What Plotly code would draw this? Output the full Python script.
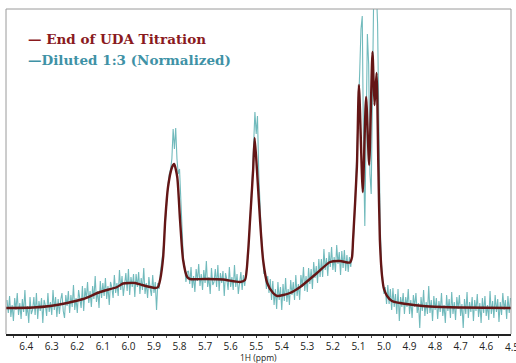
import plotly.graph_objects as go

# ---------------- data ----------------
# Smooth spectrum "End of UDA Titration" (ppm, intensity, arbitrary units)
red_ppm = [6.479, 6.373, 6.306, 6.240, 6.177, 6.111, 6.044, 6.021, 5.974, 5.946,
           5.915, 5.896, 5.884, 5.876, 5.864, 5.856, 5.845, 5.829, 5.821, 5.809,
           5.798, 5.786, 5.770, 5.759, 5.700, 5.630, 5.563, 5.544, 5.532, 5.524,
           5.512, 5.506, 5.497, 5.485, 5.473, 5.457, 5.434, 5.418, 5.368, 5.328,
           5.262, 5.211, 5.172, 5.133, 5.125, 5.121, 5.106, 5.098, 5.083, 5.070,
           5.058, 5.045, 5.037, 5.029, 5.022, 5.016, 5.008, 5.000, 4.988, 4.969,
           4.937, 4.898, 4.820, 4.703, 4.503]
red_val = [26, 26.5, 28, 31, 35, 42, 47, 50.5, 51, 49,
           47, 46, 47, 54, 77, 114, 147, 167, 170, 157,
           114, 74, 57, 55, 55, 54.5, 52, 54, 81, 114,
           164, 196, 164, 114, 74, 51, 41, 38, 41, 47,
           61, 72, 73, 71.5, 77, 94, 167, 249, 142, 237,
           169, 282, 229, 261, 167, 94, 59, 45, 38, 33,
           31, 29.5, 27.5, 26.5, 26]

# Noisy spectrum "Diluted 1:3 (Normalized)": segments of points 0.005 ppm apart
teal_step = 0.005
teal_a_start = 6.475
teal_a = [34, 21, 38, 17, 29, 13, 36, 24, 41, 19, 31, 15, 35, 22, 44, 18, 28, 11, 37, 20]
teal_b_start = 6.375
teal_b = [24, 37, 19, 41, 15, 33, 23, 36, 11, 34, 29, 18, 41, 22, 32, 19, 44, 24, 37, 17]
teal_c_start = 6.275
teal_c = [35, 20, 34, 41, 23, 16, 39, 28, 43, 21, 39, 27, 49, 24, 36, 21, 44, 33, 26, 48]
teal_d_start = 6.175
teal_d = [23, 46, 35, 52, 31, 43, 27, 48, 35, 58, 32, 43, 26, 53, 36, 51, 38, 56, 35, 48]
teal_e_start = 6.075
teal_e = [29, 52, 47, 36, 59, 41, 51, 38, 64, 44, 58, 38, 48, 61, 43, 65, 39, 57, 47, 60]
teal_f_start = 5.975
teal_f = [37, 60, 47, 62, 40, 56, 44, 66, 40, 51, 36, 57, 46, 38, 59, 41, 52, 24, 51]
teal_p1_start = 5.880
teal_p1 = [45, 62, 70, 82, 95, 115, 135, 150, 160, 165, 175, 205, 185, 206, 175, 160,
           165, 130, 100, 75, 68, 52, 62]
teal_g_start = 5.765
teal_g = [63, 50, 67, 46, 58, 42, 65, 53, 70, 48, 60, 44, 64, 51, 73, 47, 57, 40, 66, 49,
          52, 65, 47, 69, 43, 61, 51, 63, 38, 61, 55, 44, 67, 47, 57, 44, 69, 47, 60, 40,
          49, 62, 44, 59]
teal_p2_start = 5.545
teal_p2 = [48, 62, 72, 85, 110, 130, 160, 190, 222, 200, 218, 160, 125, 100, 82, 60, 62, 45]
teal_h_start = 5.455
teal_h = [58, 41, 55, 34, 53, 29, 45, 25, 52, 34, 47, 24, 50, 33, 56, 32, 45, 29, 54, 39,
          52, 34, 59, 38, 50, 34, 59, 47, 67, 43, 58, 42, 66, 50, 65, 45, 72, 56, 68, 51,
          75, 57, 75, 57, 85, 64, 76, 58, 82, 67, 87, 64, 77, 62, 89, 70, 82, 59, 83, 66,
          84, 63, 79, 62, 77, 67, 82]
teal_m_start = 5.120
teal_m = [92, 118, 150, 185, 225, 262, 305, 318, 180, 108, 200, 300, 270, 160, 140, 260,
          345, 340, 345, 310, 200, 110, 70, 50, 40]
teal_i_start = 4.995
teal_i = [47, 30, 49, 30, 45, 24, 46, 27, 40, 20, 45, 13, 37, 27, 41, 20, 37, 27, 45, 20,
          34, 16, 39, 27, 41, 21, 31, 6, 37, 23, 44, 18, 32, 20, 48, 21, 34, 13, 38, 24,
          36, 15, 33, 22, 41, 18, 29, 11, 39, 23, 35, 16, 42, 20, 32, 14, 37, 25, 39, 18,
          30, 6, 35, 20, 42, 16, 32, 22, 37, 13, 34, 23, 40, 17, 31, 11, 36, 21, 38, 18,
          29, 14, 43, 20, 33, 16, 39, 22, 35, 12, 32, 19, 41, 24, 34, 15, 38, 21, 36]

teal_segments = [
    (teal_a_start, teal_a), (teal_b_start, teal_b), (teal_c_start, teal_c),
    (teal_d_start, teal_d), (teal_e_start, teal_e), (teal_f_start, teal_f),
    (teal_p1_start, teal_p1), (teal_g_start, teal_g), (teal_p2_start, teal_p2),
    (teal_h_start, teal_h), (teal_m_start, teal_m), (teal_i_start, teal_i),
]

x_range = [6.479, 4.503]
tick_vals = [6.4, 6.3, 6.2, 6.1, 6.0, 5.9, 5.8, 5.7, 5.6, 5.5, 5.4, 5.3, 5.2, 5.1,
             5.0, 4.9, 4.8, 4.7, 4.6]
tick_text = ["6.4", "6.3", "6.2", "6.1", "6.0", "5.9", "5.8", "5.7", "5.6", "5.5",
             "5.4", "5.3", "5.2", "5.1", "5.0", "4.9", "4.8", "4.7", "4.6"]
edge_tick_val = 4.5
edge_tick_text = "4.5"   # label at the right edge, cut off by the page border

label_red = "— End of UDA Titration"
label_teal = "—Diluted 1:3 (Normalized)"
x_title = "1H (ppm)"

# ---------------- build ----------------
teal_x, teal_y = [], []
for start, vals in teal_segments:
    for i, v in enumerate(vals):
        teal_x.append(round(start - teal_step * i, 4))
        teal_y.append(v)

# paper position of the edge label (just beyond the axis end)
edge_paper_x = (x_range[0] - edge_tick_val) / (x_range[0] - x_range[1])

fig = go.Figure()
fig.add_trace(go.Scatter(x=teal_x, y=teal_y, mode="lines",
                         line=dict(color="rgba(88,174,176,0.85)", width=1.1),
                         hoverinfo="skip", showlegend=False))
fig.add_trace(go.Scatter(x=red_ppm, y=red_val, mode="lines",
                         line=dict(color="#641616", width=2.4, shape="spline", smoothing=0.6),
                         hoverinfo="skip", showlegend=False))

fig.update_layout(
    width=516, height=363,
    margin=dict(l=6, r=5, t=9, b=29),
    paper_bgcolor="white", plot_bgcolor="white",
    xaxis=dict(range=x_range, tickmode="array", tickvals=tick_vals, ticktext=tick_text,
               ticks="outside", ticklen=2, tickwidth=1, tickcolor="#333",
               showline=True, linecolor="#222", linewidth=1.5, showgrid=False, zeroline=False,
               tickfont=dict(family="Open Sans", size=10, color="#222"),
               minor=dict(dtick=0.05, tick0=4.5, ticks="outside", ticklen=2, tickcolor="#555",
                          showgrid=False)),
    yaxis=dict(range=[0, 325], visible=False, showgrid=False, zeroline=False),
    shapes=[
        dict(type="line", xref="paper", yref="paper", x0=0, x1=1, y0=1, y1=1,
             line=dict(color="#9a9a9a", width=1)),
        dict(type="line", xref="paper", yref="paper", x0=0, x1=0, y0=0, y1=1,
             line=dict(color="#9a9a9a", width=1)),
        dict(type="line", xref="paper", yref="paper", x0=1, x1=1, y0=0, y1=1,
             line=dict(color="#9a9a9a", width=1)),
    ],
    annotations=[
        dict(text="<b>" + label_red + "</b>", xref="paper", yref="paper",
             x=(26 - 6) / 505, y=(334 - 39) / 325, xanchor="left", yanchor="middle",
             showarrow=False, font=dict(family="DejaVu Serif", size=13.5, color="#8a1a1e")),
        dict(text="<b>" + label_teal + "</b>", xref="paper", yref="paper",
             x=(26 - 6) / 505, y=(334 - 60) / 325, xanchor="left", yanchor="middle",
             showarrow=False, font=dict(family="DejaVu Serif", size=13.5, color="#3f92a6")),
        dict(text=x_title, xref="paper", yref="paper", x=0.5, y=(334 - 357.5) / 325,
             xanchor="center", yanchor="middle", showarrow=False, borderpad=0,
             font=dict(family="Open Sans", size=8.5, color="#222")),
        dict(text=edge_tick_text, xref="paper", yref="paper", x=edge_paper_x,
             y=(334 - 346.5) / 325, xanchor="center", yanchor="middle", showarrow=False,
             font=dict(family="Open Sans", size=10, color="#222")),
    ],
)

fig.write_html("out.html")
